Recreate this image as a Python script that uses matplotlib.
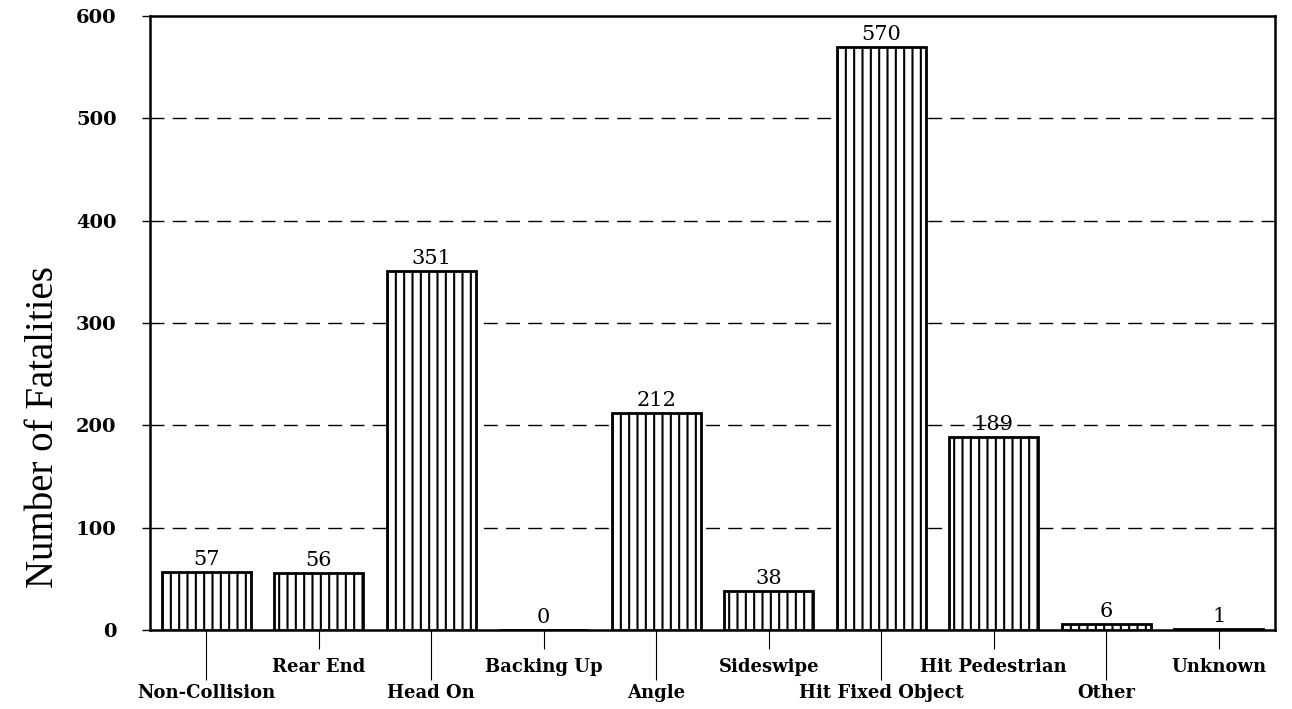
import matplotlib.pyplot as plt
import numpy as np

categories = ['Non-Collision', 'Rear End', 'Head On', 'Backing Up', 'Angle',
              'Sideswipe', 'Hit Fixed Object', 'Hit Pedestrian', 'Other', 'Unknown']
fatalities = [57, 56, 351, 0, 212, 38, 570, 189, 6, 1]
y_ticks = [0, 100, 200, 300, 400, 500, 600]

plt.rcParams['hatch.linewidth'] = 1.5

fig = plt.figure(figsize=(12.92, 7.09), dpi=100)
ax = fig.add_axes([0.1161, 0.1114, 0.8707, 0.866])

x = np.arange(len(categories))
bars = ax.bar(x, fatalities, width=0.79, color='white', edgecolor='black',
              linewidth=2, hatch='||', zorder=3)

for xi, v in zip(x, fatalities):
    ax.text(xi, v + 3, str(v), ha='center', va='bottom', fontsize=15,
            family='DejaVu Serif')

ax.set_xlim(-0.5, len(categories) - 0.5)
ax.set_ylim(0, 600)
ax.set_yticks(y_ticks)
ax.set_yticklabels([str(t) for t in y_ticks], family='DejaVu Serif',
                   fontweight='bold', fontsize=14)
ax.tick_params(axis='y', length=6, width=1, pad=18)

for yv in y_ticks[1:-1]:
    ax.axhline(yv, color='black', linestyle=(0, (10, 6)), linewidth=1, zorder=1)

# alternating two-row category labels
ax.set_xticks(x[0::2])
ax.set_xticklabels(categories[0::2], family='DejaVu Serif', fontweight='bold', fontsize=13)
ax.set_xticks(x[1::2], minor=True)
ax.set_xticklabels(categories[1::2], minor=True, family='DejaVu Serif',
                   fontweight='bold', fontsize=13)
ax.tick_params(axis='x', which='major', length=36, width=0.8, pad=3)
ax.tick_params(axis='x', which='minor', length=14, width=0.8, pad=6)

for s in ax.spines.values():
    s.set_linewidth(1.8)

ax.set_ylabel('Number of Fatalities', family='Liberation Serif', fontsize=28)
ax.yaxis.set_label_coords(-0.078, 0.33)

fig.savefig('out.png', dpi=100)
